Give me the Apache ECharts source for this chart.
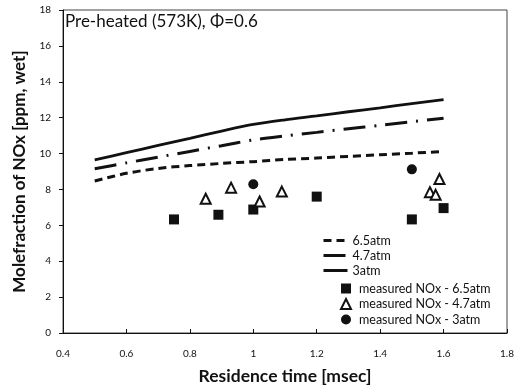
<!DOCTYPE html>
<html><head><meta charset="utf-8">
<script src="https://cdn.jsdelivr.net/npm/echarts@6/dist/echarts.min.js"></script>
<style>html,body{margin:0;padding:0;background:#fff}#c{width:527px;height:390px}</style>
</head><body><div id="c"></div>
<script>
const timeLine = [0.5,0.6,0.7,0.8,0.9,1.0,1.1,1.2,1.3,1.4,1.5,1.6];
const calc65 = [8.47,8.9,9.17,9.33,9.45,9.55,9.67,9.75,9.84,9.93,10.02,10.12];
const calc47 = [9.15,9.48,9.8,10.12,10.44,10.76,10.98,11.18,11.38,11.57,11.77,11.97];
const calc3  = [9.65,10.05,10.45,10.85,11.25,11.62,11.88,12.1,12.33,12.55,12.78,13.0];
const meas65 = [[0.75,6.33],[0.89,6.59],[1.0,6.88],[1.2,7.6],[1.5,6.33],[1.6,6.96]];
const meas47 = [[0.85,7.48],[0.93,8.1],[1.02,7.33],[1.09,7.88],[1.557,7.85],[1.575,7.7],[1.587,8.58]];
const meas3  = [[1.0,8.29],[1.5,9.12]];
const xTicks = [0.4,0.6,0.8,1.0,1.2,1.4,1.6,1.8];
const yTicks = [0,2,4,6,8,10,12,14,16,18];

const font = 'Lato, "Open Sans", sans-serif';
const zip = (xs, ys) => xs.map((x, i) => [x, ys[i]]);
const chart = echarts.init(document.getElementById('c'));
chart.setOption({
  animation: false,
  textStyle: {fontFamily: font, color: '#111'},
  grid: {left: 63, right: 20, top: 10, bottom: 54, show: true, borderColor: '#444', borderWidth: 1, containLabel: false},
  title: {text: 'Pre-heated (573K), \u03A6=0.6', left: 60, top: 8, textStyle: {fontFamily: font, fontSize: 17, fontWeight: 'normal', color: '#111'}},
  xAxis: {type: 'value', min: xTicks[0], max: xTicks[xTicks.length-1], interval: 0.2,
    name: 'Residence time [msec]', nameLocation: 'middle', nameGap: 34,
    nameTextStyle: {fontFamily: font, fontSize: 17.5, fontWeight: 'bold', color: '#111'},
    axisLine: {lineStyle: {color: '#111'}}, axisTick: {inside: true, length: 4, lineStyle: {color: '#111'}},
    splitLine: {show: false},
    axisLabel: {fontSize: 10, color: '#111', margin: 16, formatter: v => String(+v.toFixed(1))}},
  yAxis: {type: 'value', min: yTicks[0], max: yTicks[yTicks.length-1], interval: 2,
    name: 'Molefraction of NOx [ppm, wet]', nameLocation: 'middle', nameGap: 33,
    nameTextStyle: {fontFamily: font, fontSize: 17, fontWeight: 'bold', color: '#111'},
    axisLine: {show: true, lineStyle: {color: '#111'}}, axisTick: {show: true, length: 4, lineStyle: {color: '#111'}},
    splitLine: {show: false},
    axisLabel: {fontSize: 10, color: '#111', margin: 12}},
  legend: [
    {data: ['6.5atm', '4.7atm', '3atm'], orient: 'vertical', left: 317, top: 229, itemWidth: 24, itemHeight: 10, itemGap: 2,
      itemStyle: {opacity: 0}, lineStyle: {width: 3},
      textStyle: {fontFamily: font, fontSize: 12.5, color: '#111'}, selectedMode: false},
    {data: ['measured NOx - 6.5atm', 'measured NOx - 4.7atm', 'measured NOx - 3atm'], orient: 'vertical', left: 335, top: 277, itemWidth: 10, itemHeight: 10, itemGap: 2.5,
      textStyle: {fontFamily: font, fontSize: 12.5, color: '#111', padding: [0,0,0,3]}, selectedMode: false}
  ],
  series: [
    {name: '6.5atm', type: 'line', data: zip(timeLine, calc65), symbol: 'none', smooth: 0.3,
      lineStyle: {color: '#111', width: 3, type: [8, 5]}, itemStyle: {color: '#111'}},
    {name: '4.7atm', type: 'line', data: zip(timeLine, calc47), symbol: 'none', smooth: 0.3,
      lineStyle: {color: '#111', width: 3, type: [22, 9, 2, 9]}, itemStyle: {color: '#111'}},
    {name: '3atm', type: 'line', data: zip(timeLine, calc3), symbol: 'none', smooth: 0.3,
      lineStyle: {color: '#111', width: 2.8}, itemStyle: {color: '#111'}},
    {name: 'measured NOx - 6.5atm', type: 'scatter', data: meas65, symbol: 'rect', symbolSize: 10,
      itemStyle: {color: '#111', opacity: 1}},
    {name: 'measured NOx - 4.7atm', type: 'scatter', data: meas47, symbol: 'triangle', symbolSize: 10,
      itemStyle: {color: '#fff', borderColor: '#111', borderWidth: 2, opacity: 1}},
    {name: 'measured NOx - 3atm', type: 'scatter', data: meas3, symbol: 'circle', symbolSize: 10,
      itemStyle: {color: '#111', opacity: 1}}
  ]
});
</script></body></html>
